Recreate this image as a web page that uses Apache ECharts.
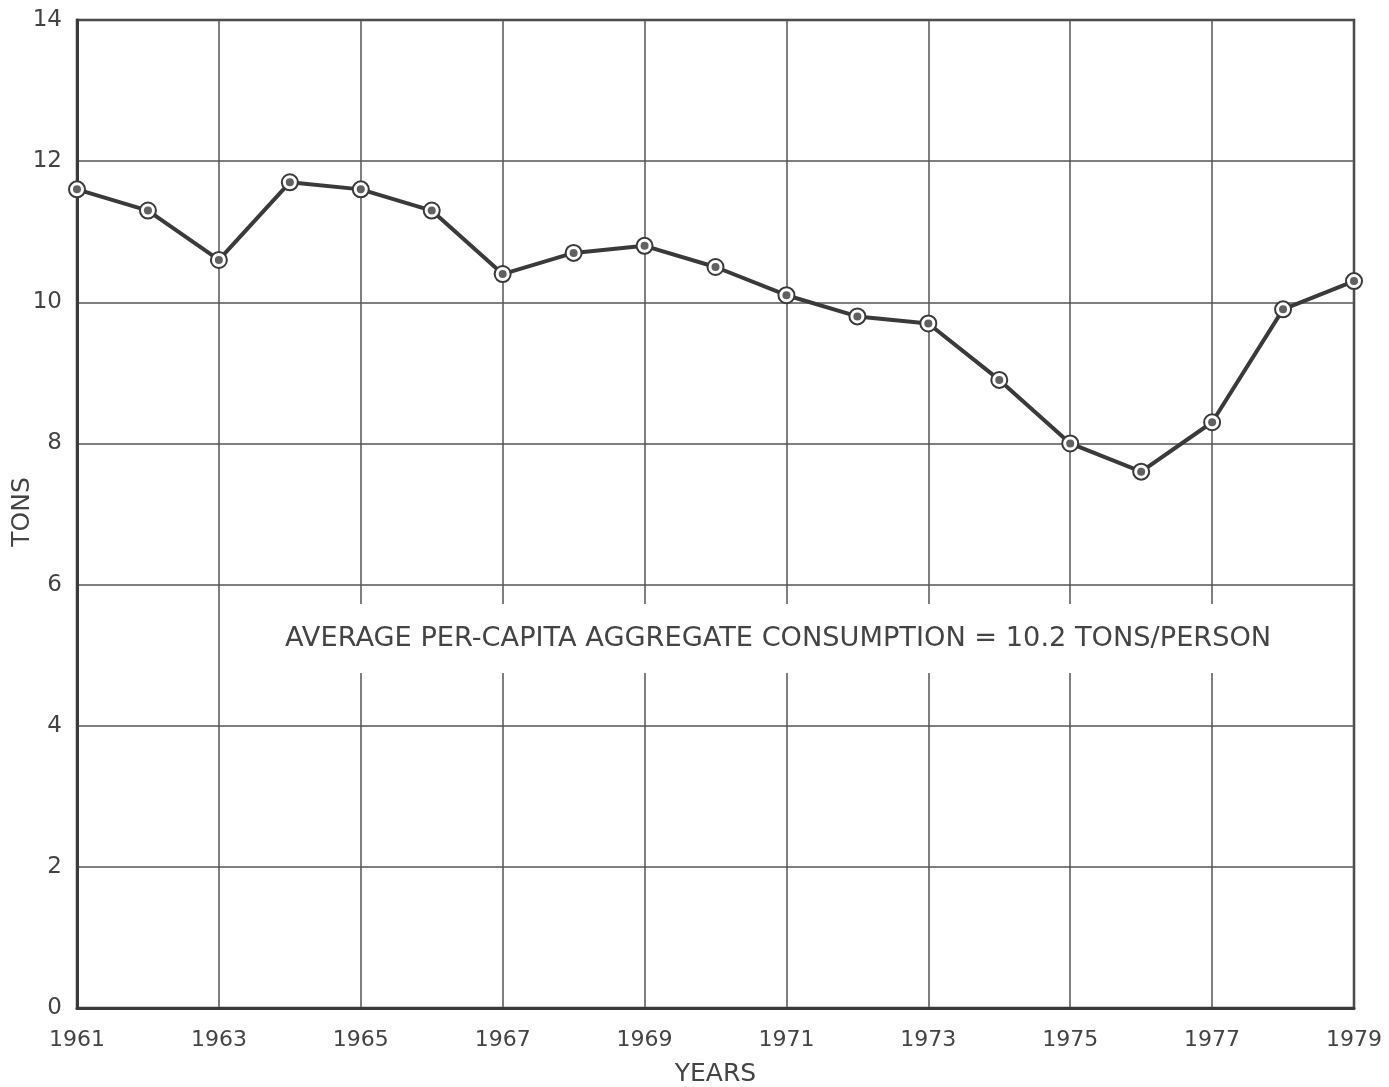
<!DOCTYPE html>
<html>
<head>
<meta charset="utf-8">
<script src="https://cdn.jsdelivr.net/npm/echarts@6/dist/echarts.min.js"></script>
<style>
  html, body { margin: 0; padding: 0; background: #fff; }
  #chart { width: 1389px; height: 1087px; }
</style>
</head>
<body>
<div id="chart"></div>
<script>
// years on the x axis
const years = ['1961', '1962', '1963', '1964', '1965', '1966', '1967', '1968', '1969', '1970',
    '1971', '1972', '1973', '1974', '1975', '1976', '1977', '1978', '1979'];
// per-capita consumption, tons
const tons = [11.6, 11.3, 10.6, 11.7, 11.6, 11.3, 10.4, 10.7, 10.8, 10.5,
    10.1, 9.8, 9.7, 8.9, 8.0, 7.6, 8.3, 9.9, 10.3];
const yTicks = [0, 2, 4, 6, 8, 10, 12, 14];
const note = 'AVERAGE PER-CAPITA AGGREGATE CONSUMPTION = 10.2 TONS/PERSON';

const ink = '#3a3a3a';
const gridInk = '#555';
const font = 'DejaVu Sans';

const chart = echarts.init(document.getElementById('chart'));
chart.setOption({
    animation: false,
    backgroundColor: '#fff',
    grid: {
        left: 77, right: 35, top: 20, bottom: 79,
        outerBoundsMode: 'none',
        containLabel: false,
        show: true,
        borderColor: ink,
        borderWidth: 2.5,
        backgroundColor: 'transparent'
    },
    xAxis: {
        type: 'category',
        data: years,
        boundaryGap: false,
        name: 'YEARS',
        nameLocation: 'middle',
        nameGap: 54,
        nameTextStyle: { fontFamily: font, fontSize: 25, color: '#444' },
        axisLine: { lineStyle: { color: ink, width: 3 } },
        axisTick: { show: false },
        axisLabel: {
            interval: 1,
            margin: 21,
            fontFamily: font,
            fontSize: 22,
            color: '#444'
        },
        splitLine: {
            show: true,
            interval: 1,
            lineStyle: { color: gridInk, width: 1.5 }
        }
    },
    yAxis: {
        type: 'value',
        min: yTicks[0],
        max: yTicks[yTicks.length - 1],
        interval: 2,
        axisLine: { show: true, lineStyle: { color: ink, width: 3 } },
        axisTick: { show: false },
        axisLabel: {
            margin: 15,
            fontFamily: font,
            fontSize: 23,
            color: '#444'
        },
        splitLine: { lineStyle: { color: gridInk, width: 1.5 } }
    },
    graphic: [
        {
            // y axis title, rotated
            type: 'text',
            x: 22,
            y: 512,
            rotation: Math.PI / 2,
            style: {
                text: 'TONS',
                fontFamily: font,
                fontSize: 25,
                fill: '#444',
                align: 'center',
                verticalAlign: 'middle'
            }
        },
        {
            type: 'text',
            left: 267,
            top: 604,
            z: 5,
            style: {
                text: note,
                fontFamily: font,
                fontSize: 27.2,
                fill: '#444',
                backgroundColor: '#fff',
                padding: [21, 18, 21, 18]
            }
        }
    ],
    series: [
        {
            type: 'line',
            data: tons,
            z: 10,
            symbol: 'circle',
            symbolSize: 16,
            lineStyle: { color: ink, width: 4 },
            itemStyle: { color: '#fff', borderColor: ink, borderWidth: 2 }
        },
        {
            type: 'scatter',
            data: tons,
            z: 11,
            symbol: 'circle',
            symbolSize: 8,
            itemStyle: { color: ink }
        }
    ]
});
</script>
</body>
</html>
